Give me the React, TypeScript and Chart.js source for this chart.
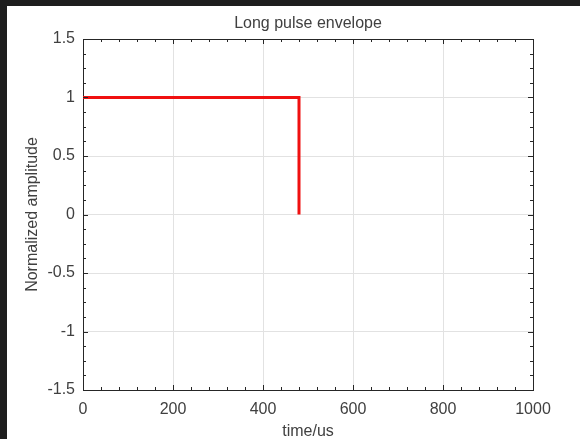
import { useEffect, useRef } from "react";
import { Chart, registerables } from "chart.js";

Chart.register(...registerables);

// pulse envelope
const timeUs = [0, 480, 480];
const amplitude = [1, 1, 0];

const xTicks = [0, 200, 400, 600, 800, 1000];
const yTicks = [-1.5, -1, -0.5, 0, 0.5, 1, 1.5];

const FONT = "'Liberation Sans', Arial, Helvetica, sans-serif";
const TEXT = "#404040";
const AXIS = "#262626";

// box on + inward major/minor ticks like matlab
const boxTicks = {
  id: "boxTicks",
  afterDraw(chart: any) {
    const { ctx, chartArea } = chart;
    const { left, right, top, bottom } = chartArea;
    const xs = chart.scales.x;
    const ys = chart.scales.y;
    ctx.save();
    ctx.strokeStyle = AXIS;
    ctx.lineWidth = 1;
    ctx.beginPath();
    ctx.moveTo(left, top + 0.5);
    ctx.lineTo(right + 0.5, top + 0.5);
    ctx.lineTo(right + 0.5, bottom);
    ctx.stroke();

    ctx.beginPath();
    const xStep = 200 / 5;
    for (let v = xs.min; v <= xs.max + 1e-9; v += xStep) {
      const px = Math.round(xs.getPixelForValue(v)) + 0.5;
      const len = Math.abs(v % 200) < 1e-6 ? 5 : 3;
      ctx.moveTo(px, bottom);
      ctx.lineTo(px, bottom - len);
      ctx.moveTo(px, top);
      ctx.lineTo(px, top + len);
    }
    const yStep = 0.5 / 4;
    for (let v = ys.min; v <= ys.max + 1e-9; v += yStep) {
      const py = Math.round(ys.getPixelForValue(v)) + 0.5;
      const r = Math.abs(v / 0.5 - Math.round(v / 0.5)) < 1e-6;
      const len = r ? 5 : 3;
      ctx.moveTo(left, py);
      ctx.lineTo(left + len, py);
      ctx.moveTo(right, py);
      ctx.lineTo(right - len, py);
    }
    ctx.stroke();
    ctx.restore();
  },
};

const PulseChart = () => {
  const canvasRef = useRef<HTMLCanvasElement | null>(null);

  useEffect(() => {
    if (!canvasRef.current) return;
    const ctx = canvasRef.current.getContext("2d");
    if (!ctx) return;

    const chart = new Chart(ctx, {
      type: "line",
      data: {
        datasets: [
          {
            data: timeUs.map((t, i) => ({ x: t, y: amplitude[i] })),
            borderColor: "#f01010",
            borderWidth: 3,
            pointRadius: 0,
            tension: 0,
            borderJoinStyle: "miter",
            fill: false,
          },
        ],
      },
      options: {
        responsive: false,
        animation: false,
        layout: { padding: { left: 0, top: 0, right: 47, bottom: 0 } },
        plugins: {
          legend: { display: false },
          tooltip: { enabled: false },
          title: {
            display: true,
            fullSize: false,
            text: "Long pulse envelope",
            color: TEXT,
            font: { family: FONT, size: 16, weight: "normal" },
            padding: { top: 8.4, bottom: 5.4 },
          },
        },
        scales: {
          x: {
            type: "linear",
            min: 0,
            max: 1000,
            afterFit: (s: any) => {
              s.height = 61;
            },
            afterBuildTicks: (s: any) => {
              s.ticks = xTicks.map((v) => ({ value: v }));
            },
            ticks: {
              color: TEXT,
              font: { family: FONT, size: 16 },
              padding: 10,
              maxRotation: 0,
              autoSkip: false,
              callback: (v: any) => String(v),
            },
            grid: { color: "#e2e2e2", drawTicks: false },
            border: { color: AXIS, width: 1 },
            title: {
              display: true,
              text: "time/us",
              color: TEXT,
              font: { family: FONT, size: 16 },
              padding: { top: 0, bottom: 9.4 },
            },
          },
          y: {
            type: "linear",
            min: -1.5,
            max: 1.5,
            afterFit: (s: any) => {
              s.width = 76;
            },
            afterBuildTicks: (s: any) => {
              s.ticks = yTicks.map((v) => ({ value: v }));
            },
            ticks: {
              color: TEXT,
              font: { family: FONT, size: 16 },
              padding: 8,
              autoSkip: false,
              callback: (v: any) => String(v),
            },
            grid: { color: "#e2e2e2", drawTicks: false },
            border: { color: AXIS, width: 1 },
            title: {
              display: true,
              text: "Normalized amplitude",
              color: TEXT,
              font: { family: FONT, size: 16 },
              padding: { top: 16.4, bottom: 0 },
            },
          },
        },
      },
      plugins: [boxTicks],
    });

    return () => {
      chart.destroy();
    };
  }, []);

  return <canvas ref={canvasRef} width={573} height={445} style={{ display: "block" }}></canvas>;
};

export default function App() {
  return (
    <div
      style={{
        position: "fixed",
        left: 0,
        top: 0,
        width: 580,
        height: 439,
        overflow: "hidden",
        background: "#1e1e1e",
      }}
    >
      <div
        style={{
          position: "absolute",
          left: 7,
          top: 6,
          width: 573,
          height: 445,
          background: "#ffffff",
        }}
      >
        <PulseChart />
      </div>
    </div>
  );
}
